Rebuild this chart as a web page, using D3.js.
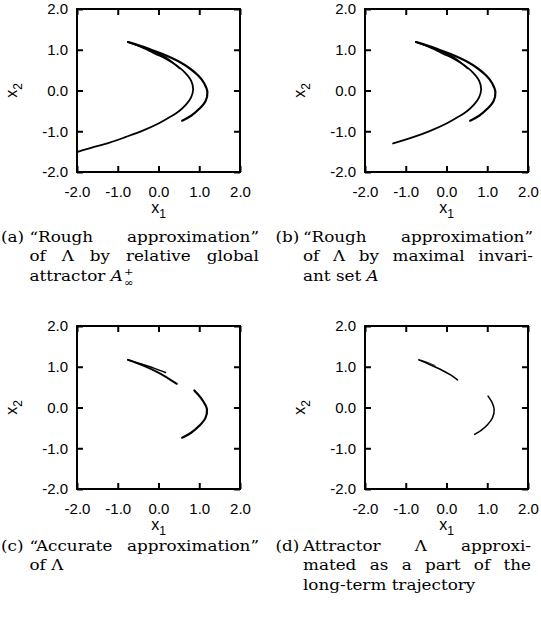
<!DOCTYPE html>
<html>
<head>
<meta charset="utf-8">
<script src="https://cdn.jsdelivr.net/npm/d3@7"></script>
<style>
    body { margin: 0; background: #fff; }
    .tick text { font-family: "Liberation Sans", Arial, sans-serif; font-size: 15px; fill: #000; }
    .tick line { stroke: #000; stroke-width: 2; }
    .axis-label { font-family: "Liberation Sans", Arial, sans-serif; font-size: 16px; fill: #000; }
    .caption text { font-family: "DejaVu Serif", serif; font-size: 15px; fill: #000; }
    .curve { fill: none; stroke: #000; stroke-linejoin: round; stroke-linecap: round; }
</style>
</head>
<body>
<svg id="figure" width="541" height="620"></svg>
<script>
// tick values shared by both axes of every panel
const tickValues = [-2, -1, 0, 1, 2];

// outer fold of the attractor (tip -> right turn -> lower end)
const outerArc = [[-0.75, 1.19], [-0.45, 1.10], [-0.15, 0.99], [0.19, 0.86], [0.5, 0.71], [0.77, 0.54],
    [0.98, 0.36], [1.12, 0.18], [1.2, -0.04], [1.15, -0.27], [1.0, -0.45], [0.8, -0.62], [0.58, -0.74]];
// inner fold, runs down to the lower left
const innerArcA = [[-0.75, 1.19], [-0.45, 1.08], [-0.1, 0.91], [0.2, 0.77], [0.45, 0.61], [0.65, 0.44],
    [0.8, 0.24], [0.85, 0.03], [0.8, -0.17], [0.68, -0.34], [0.5, -0.51], [0.3, -0.64], [0.0, -0.81],
    [-0.4, -0.99], [-0.8, -1.14], [-1.2, -1.28], [-1.6, -1.39], [-2.0, -1.51]];
const innerArcB = [[-0.75, 1.19], [-0.45, 1.08], [-0.1, 0.91], [0.2, 0.77], [0.45, 0.61], [0.65, 0.44],
    [0.8, 0.24], [0.85, 0.03], [0.8, -0.17], [0.68, -0.34], [0.5, -0.51], [0.3, -0.64], [0.0, -0.81],
    [-0.4, -0.99], [-0.8, -1.14], [-1.31, -1.30]];
// short strand between the two folds near the tip
const midStrand = [[-0.75, 1.19], [-0.4, 1.06], [-0.05, 0.92], [0.2, 0.8], [0.38, 0.66], [0.52, 0.54]];

// (c) accurate approximation
const cUpper = [[-0.75, 1.17], [-0.4, 1.06], [-0.1, 0.96], [0.17, 0.86]];
const cLower = [[-0.75, 1.17], [-0.4, 1.04], [-0.05, 0.88], [0.2, 0.74], [0.45, 0.58]];
const cArc = [[0.88, 0.42], [1.03, 0.25], [1.14, 0.08], [1.19, -0.05], [1.15, -0.26], [1.0, -0.45],
    [0.8, -0.62], [0.58, -0.74]];

// (d) long-term trajectory
const dStrand = [[-0.68, 1.17], [-0.4, 1.05], [-0.1, 0.91], [0.1, 0.8], [0.27, 0.68]];
const dSplinter = [[-0.62, 1.16], [-0.45, 1.10], [-0.28, 1.03]];
const dArc = [[1.02, 0.28], [1.12, 0.12], [1.17, -0.05], [1.13, -0.25], [1.0, -0.43], [0.85, -0.56], [0.69, -0.66]];

const panels = [
    { left: 77, top: 9, curves: [[innerArcA, 1.8], [midStrand, 1.5], [outerArc, 2.2]] },
    { left: 365, top: 9, curves: [[innerArcB, 1.8], [midStrand, 1.5], [outerArc, 2.2]] },
    { left: 77, top: 326, curves: [[cUpper, 1.5], [cLower, 1.9], [cArc, 2.2]] },
    { left: 365, top: 326, curves: [[dStrand, 1.6], [dSplinter, 1.0], [dArc, 1.5]] }
];
const SIZE = 163;

const svg = d3.select('#figure');
svg.append('rect').attr('width', 541).attr('height', 620).attr('fill', '#fff');

const fmt = d => d.toFixed(1);

panels.forEach(p => {
    const x = d3.scaleLinear().domain([-2, 2]).range([0, SIZE]);
    const y = d3.scaleLinear().domain([-2, 2]).range([SIZE, 0]);
    const g = svg.append('g').attr('transform', `translate(${p.left}, ${p.top})`);

    g.append('g').attr('transform', `translate(0, ${SIZE})`)
        .call(d3.axisBottom(x).tickValues(tickValues).tickFormat(fmt).tickSizeInner(-6).tickSizeOuter(0).tickPadding(14));
    g.append('g')
        .call(d3.axisLeft(y).tickValues(tickValues).tickFormat(fmt).tickSizeInner(-6).tickSizeOuter(0).tickPadding(9));
    g.append('g')
        .call(d3.axisTop(x).tickValues(tickValues).tickFormat('').tickSizeInner(-6).tickSizeOuter(0));
    g.append('g').attr('transform', `translate(${SIZE}, 0)`)
        .call(d3.axisRight(y).tickValues(tickValues).tickFormat('').tickSizeInner(-6).tickSizeOuter(0));
    g.selectAll('.domain').remove();

    g.append('rect')
        .attr('width', SIZE).attr('height', SIZE)
        .attr('fill', 'none').attr('stroke', '#000').attr('stroke-width', 2);

    const line = d3.line().x(d => x(d[0])).y(d => y(d[1])).curve(d3.curveCatmullRom.alpha(0.5));
    p.curves.forEach(([pts, w]) => {
        g.append('path').attr('class', 'curve').attr('d', line(pts)).attr('stroke-width', w);
    });

    // axis titles
    const xl = g.append('text').attr('class', 'axis-label')
        .attr('x', SIZE / 2).attr('y', SIZE + 41).attr('text-anchor', 'middle');
    xl.append('tspan').text('x');
    xl.append('tspan').attr('font-size', 12).attr('dy', 5).text('1');

    const yl = g.append('text').attr('class', 'axis-label')
        .attr('transform', `translate(-60, ${SIZE / 2}) rotate(-90)`).attr('text-anchor', 'middle');
    yl.append('tspan').text('x');
    yl.append('tspan').attr('font-size', 12).attr('dy', 5).text('2');
});

// captions (text is a bit wider than it is tall in the scan, hence SX)
const cap = svg.append('g').attr('class', 'caption');
const SX = 1.12;
const SPACE = 4.8 * SX;

function word(str, x0, y) {
    const t = cap.append('text').text(str);
    t.place = xx => t.attr('transform', `translate(${xx}, ${y}) scale(${SX}, 1)`);
    t.place(x0);
    t.w = t.node().getComputedTextLength() * SX;
    return t;
}
function justified(words, x0, x1, y) {
    const texts = words.map(w => word(w, x0, y));
    const gap = (x1 - x0 - d3.sum(texts, t => t.w)) / (words.length - 1);
    let xx = x0;
    texts.forEach(t => { t.place(xx); xx += t.w + gap; });
}

const L1 = 1, T1 = 29.5, R1 = 259;
const L2 = 275.5, T2 = 303, R2 = 533;
const topRows = [242, 261.3, 280.6];
const botRows = [551, 570.3, 589.6];

// (a)
word('(a)', L1, topRows[0]);
justified(['\u201CRough', 'approximation\u201D'], T1, R1, topRows[0]);
justified(['of', '\u039B', 'by', 'relative', 'global'], T1, R1, topRows[1]);
const ax = T1 + word('attractor', T1, topRows[2]).w + SPACE;
// A with stacked superscript + and subscript infinity, one text element
const aMath = word('', ax, topRows[2]);
aMath.append('tspan').attr('font-style', 'italic').text('A');
const plus = aMath.append('tspan').attr('font-size', 10).attr('dx', 1).attr('dy', -5.5).text('+');
const plusW = plus.node().getComputedTextLength();
aMath.append('tspan').attr('font-size', 10).attr('dx', -plusW).attr('dy', 10.5).text('\u221E');

// (b)
word('(b)', L2, topRows[0]);
justified(['\u201CRough', 'approximation\u201D'], T2, R2, topRows[0]);
justified(['of', '\u039B', 'by', 'maximal', 'invari-'], T2, R2, topRows[1]);
const bt = word('ant set', T2, topRows[2]);
word('A', T2 + bt.w + SPACE, topRows[2]).attr('font-style', 'italic');

// (c)
word('(c)', L1, botRows[0]);
justified(['\u201CAccurate', 'approximation\u201D'], T1, R1, botRows[0]);
word('of \u039B', T1, botRows[1]);

// (d)
word('(d)', L2, botRows[0]);
justified(['Attractor', '\u039B', 'approxi-'], T2, R2 - 2, botRows[0]);
justified(['mated', 'as', 'a', 'part', 'of', 'the'], T2, R2 - 2, botRows[1]);
word('long-term trajectory', T2, botRows[2]);
</script>
</body>
</html>
